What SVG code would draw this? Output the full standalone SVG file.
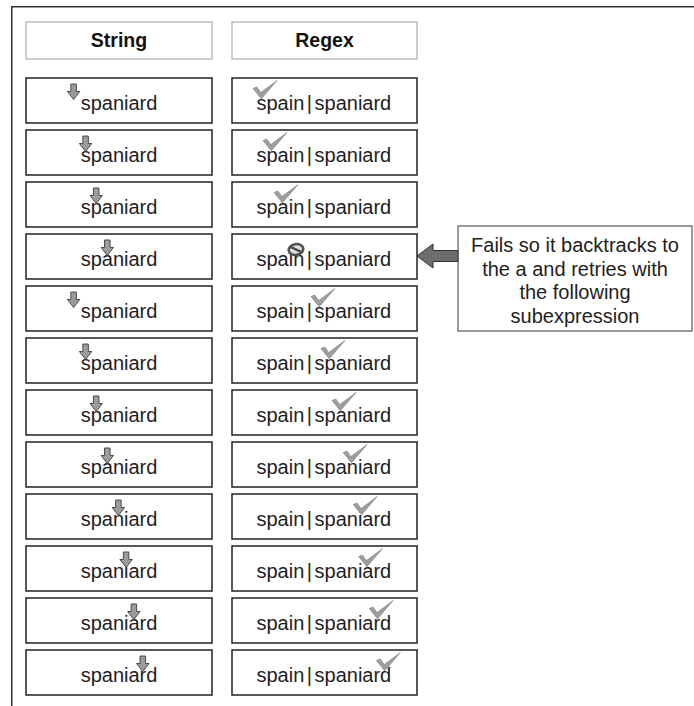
<svg xmlns="http://www.w3.org/2000/svg" xmlns:xlink="http://www.w3.org/1999/xlink" width="694" height="706" viewBox="0 0 694 706">
<style>
  text{font-family:"Liberation Sans",Arial,sans-serif;font-size:20px;fill:#1e1e1e}
  .hdr{fill:#fff;stroke:#bdbdbd;stroke-width:1.5}
  .hdrt{font-weight:bold;font-size:19.5px;fill:#111;text-anchor:middle}
  .box{fill:#fff;stroke:#222;stroke-width:1.5}
  .mid{text-anchor:middle}
  .dn{fill:#9c9c9c;stroke:#4a4a4a;stroke-width:1}
  .chk{fill:#9e9e9e;stroke:#7c7c7c;stroke-width:0.6}
  .call{fill:#fff;stroke:#7a7a7a;stroke-width:1.5}
</style>
<defs>
  <path id="dn" class="dn" d="M-2.75,6 H2.75 V13.5 H6.2 L0,21.5 L-6.2,13.5 H-2.75 Z"/>
  <path id="chk" class="chk" d="M-7,-9.5 L-3.2,-11 L0.8,-5.4 L17,-17.5 L1.3,0.8 Z"/>
</defs>
<rect width="694" height="706" fill="#fff"/>
<path d="M11.75,706 V6.75 H694" fill="none" stroke="#333" stroke-width="1.5"/>

<g id="hdr-string"><rect class="hdr" x="26" y="22" width="186" height="37"/><text class="hdrt" x="119" y="47">String</text></g>
<g id="hdr-regex"><rect class="hdr" x="232" y="22" width="185" height="37"/><text class="hdrt" x="324.5" y="47">Regex</text></g>

<g id="str-1" transform="translate(0,78)"><rect class="box" x="26" y="0" width="186" height="45"/><text class="mid" x="119" y="31.5">spaniard</text><use xlink:href="#dn" x="73.6"/></g>
<g id="str-2" transform="translate(0,130)"><rect class="box" x="26" y="0" width="186" height="45"/><text class="mid" x="119" y="31.5">spaniard</text><use xlink:href="#dn" x="85.6"/></g>
<g id="str-3" transform="translate(0,182)"><rect class="box" x="26" y="0" width="186" height="45"/><text class="mid" x="119" y="31.5">spaniard</text><use xlink:href="#dn" x="96.2"/></g>
<g id="str-4" transform="translate(0,234)"><rect class="box" x="26" y="0" width="186" height="45"/><text class="mid" x="119" y="31.5">spaniard</text><use xlink:href="#dn" x="107.3"/></g>
<g id="str-5" transform="translate(0,286)"><rect class="box" x="26" y="0" width="186" height="45"/><text class="mid" x="119" y="31.5">spaniard</text><use xlink:href="#dn" x="73.6"/></g>
<g id="str-6" transform="translate(0,338)"><rect class="box" x="26" y="0" width="186" height="45"/><text class="mid" x="119" y="31.5">spaniard</text><use xlink:href="#dn" x="85.6"/></g>
<g id="str-7" transform="translate(0,390)"><rect class="box" x="26" y="0" width="186" height="45"/><text class="mid" x="119" y="31.5">spaniard</text><use xlink:href="#dn" x="96.2"/></g>
<g id="str-8" transform="translate(0,442)"><rect class="box" x="26" y="0" width="186" height="45"/><text class="mid" x="119" y="31.5">spaniard</text><use xlink:href="#dn" x="107.3"/></g>
<g id="str-9" transform="translate(0,494)"><rect class="box" x="26" y="0" width="186" height="45"/><text class="mid" x="119" y="31.5">spaniard</text><use xlink:href="#dn" x="118.4"/></g>
<g id="str-10" transform="translate(0,546)"><rect class="box" x="26" y="0" width="186" height="45"/><text class="mid" x="119" y="31.5">spaniard</text><use xlink:href="#dn" x="126.1"/></g>
<g id="str-11" transform="translate(0,598)"><rect class="box" x="26" y="0" width="186" height="45"/><text class="mid" x="119" y="31.5">spaniard</text><use xlink:href="#dn" x="133.9"/></g>
<g id="str-12" transform="translate(0,650)"><rect class="box" x="26" y="0" width="186" height="45"/><text class="mid" x="119" y="31.5">spaniard</text><use xlink:href="#dn" x="142.8"/></g>

<g id="re-1" transform="translate(0,78)"><rect class="box" x="232" y="0" width="185" height="45"/><text x="256.5" y="31.5">spain<tspan dx="2.5">|</tspan><tspan dx="2.5">spaniard</tspan></text><use xlink:href="#chk" x="260" y="20"/></g>
<g id="re-2" transform="translate(0,130)"><rect class="box" x="232" y="0" width="185" height="45"/><text x="256.5" y="31.5">spain<tspan dx="2.5">|</tspan><tspan dx="2.5">spaniard</tspan></text><use xlink:href="#chk" x="270" y="20"/></g>
<g id="re-3" transform="translate(0,182)"><rect class="box" x="232" y="0" width="185" height="45"/><text x="256.5" y="31.5">spain<tspan dx="2.5">|</tspan><tspan dx="2.5">spaniard</tspan></text><use xlink:href="#chk" x="281.1" y="20"/></g>
<g id="re-4" transform="translate(0,234)"><rect class="box" x="232" y="0" width="185" height="45"/><text x="256.5" y="31.5">spain<tspan dx="2.5">|</tspan><tspan dx="2.5">spaniard</tspan></text><g transform="translate(296,15.5) rotate(-10)"><ellipse rx="7.3" ry="5.4" fill="#e2e2e2" stroke="#505050" stroke-width="2.6"/><line x1="-5" y1="-3.6" x2="5" y2="3.6" stroke="#505050" stroke-width="2.6"/></g></g>
<g id="re-5" transform="translate(0,286)"><rect class="box" x="232" y="0" width="185" height="45"/><text x="256.5" y="31.5">spain<tspan dx="2.5">|</tspan><tspan dx="2.5">spaniard</tspan></text><use xlink:href="#chk" x="317.9" y="20"/></g>
<g id="re-6" transform="translate(0,338)"><rect class="box" x="232" y="0" width="185" height="45"/><text x="256.5" y="31.5">spain<tspan dx="2.5">|</tspan><tspan dx="2.5">spaniard</tspan></text><use xlink:href="#chk" x="327.9" y="20"/></g>
<g id="re-7" transform="translate(0,390)"><rect class="box" x="232" y="0" width="185" height="45"/><text x="256.5" y="31.5">spain<tspan dx="2.5">|</tspan><tspan dx="2.5">spaniard</tspan></text><use xlink:href="#chk" x="339" y="20"/></g>
<g id="re-8" transform="translate(0,442)"><rect class="box" x="232" y="0" width="185" height="45"/><text x="256.5" y="31.5">spain<tspan dx="2.5">|</tspan><tspan dx="2.5">spaniard</tspan></text><use xlink:href="#chk" x="350.1" y="20"/></g>
<g id="re-9" transform="translate(0,494)"><rect class="box" x="232" y="0" width="185" height="45"/><text x="256.5" y="31.5">spain<tspan dx="2.5">|</tspan><tspan dx="2.5">spaniard</tspan></text><use xlink:href="#chk" x="360.2" y="20"/></g>
<g id="re-10" transform="translate(0,546)"><rect class="box" x="232" y="0" width="185" height="45"/><text x="256.5" y="31.5">spain<tspan dx="2.5">|</tspan><tspan dx="2.5">spaniard</tspan></text><use xlink:href="#chk" x="365.6" y="20"/></g>
<g id="re-11" transform="translate(0,598)"><rect class="box" x="232" y="0" width="185" height="45"/><text x="256.5" y="31.5">spain<tspan dx="2.5">|</tspan><tspan dx="2.5">spaniard</tspan></text><use xlink:href="#chk" x="376.2" y="20"/></g>
<g id="re-12" transform="translate(0,650)"><rect class="box" x="232" y="0" width="185" height="45"/><text x="256.5" y="31.5">spain<tspan dx="2.5">|</tspan><tspan dx="2.5">spaniard</tspan></text><use xlink:href="#chk" x="383.4" y="20"/></g>

<g id="callout">
  <rect class="call" x="458" y="226" width="234" height="105"/>
  <text class="mid" x="575" y="252">Fails so it backtracks to</text>
  <text class="mid" x="575" y="275.5">the a and retries with</text>
  <text class="mid" x="575" y="299">the following</text>
  <text class="mid" x="575" y="322.5">subexpression</text>
</g>

<g id="connectors">
  <polygon points="417,256 433,244 433,250.5 458,250.5 458,261.5 433,261.5 433,268" fill="#6d6d6d" stroke="#333" stroke-width="1"/>
</g>
</svg>
